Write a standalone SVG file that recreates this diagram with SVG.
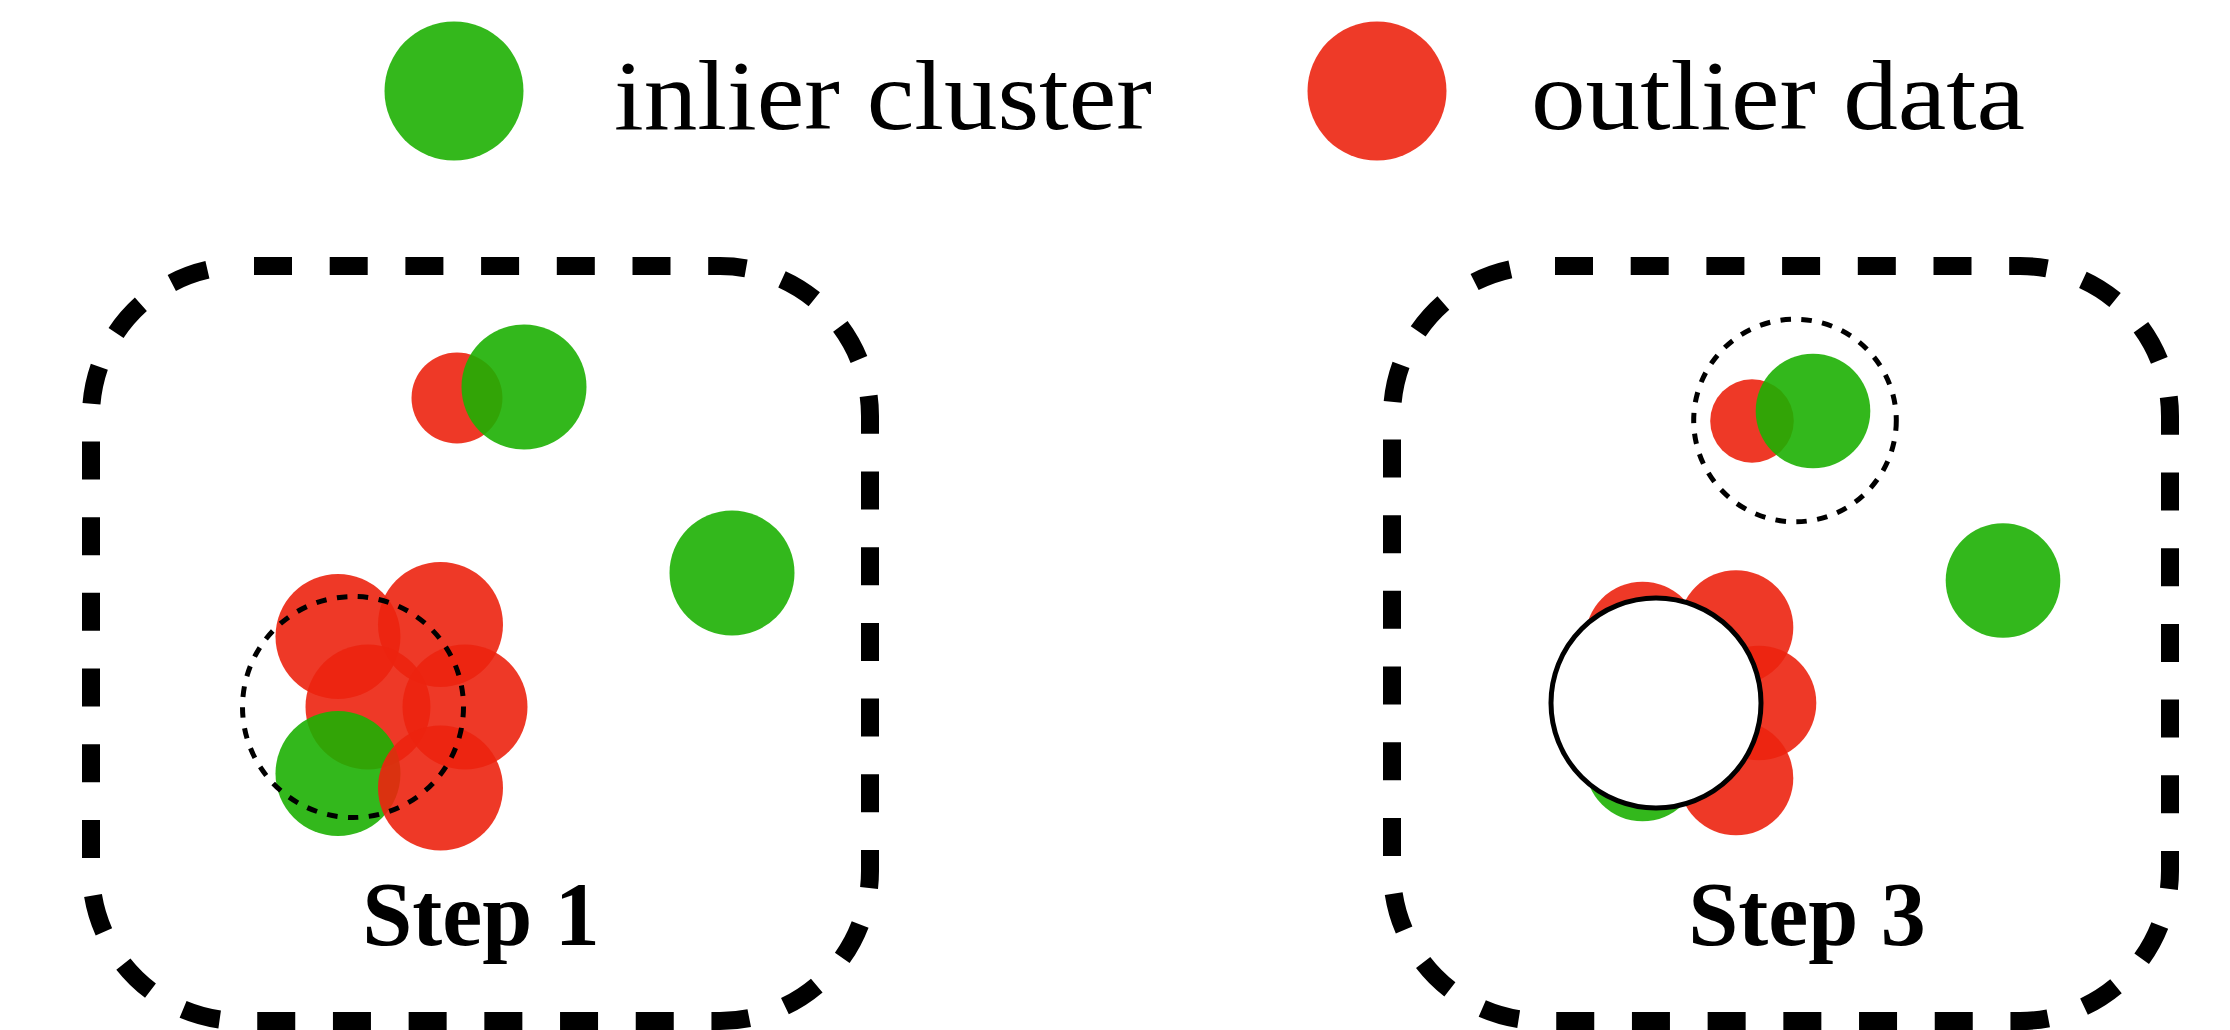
<svg xmlns="http://www.w3.org/2000/svg" width="2230" height="1030" viewBox="0 0 2230 1030">
  <style>
    .inl { fill: #1DB003; fill-opacity: 0.9; }
    .out { fill: #EC2410; fill-opacity: 0.9; }
    .key-inl { fill: #34B81C; }
    .key-out { fill: #EE3A28; }
    .frame { fill: none; stroke: #000; stroke-width: 18; stroke-dasharray: 38 37.7; stroke-dashoffset: -13; }
    .ring { fill: none; stroke: #000; stroke-width: 5; stroke-dasharray: 10.5 10.5; }
    .probe { fill: #fff; stroke: #000; stroke-width: 5; }
    .key-text { font-family: "Liberation Serif", "Times New Roman", serif; font-size: 100px; fill: #000; }
    .step { font-family: "Liberation Serif", "Times New Roman", serif; font-size: 90px; font-weight: bold; fill: #000; text-anchor: middle; }
  </style>

  <!-- legend -->
  <g id="legend">
    <g id="legend-inlier">
      <circle class="key-inl" cx="454" cy="91" r="69.5"/>
      <text class="key-text" x="614" y="129" textLength="538" lengthAdjust="spacingAndGlyphs">inlier cluster</text>
    </g>
    <g id="legend-outlier">
      <circle class="key-out" cx="1377" cy="91" r="69.5"/>
      <text class="key-text" x="1531" y="129" textLength="494" lengthAdjust="spacingAndGlyphs">outlier data</text>
    </g>
  </g>

  <!-- Step 1 panel -->
  <g id="step1">
    <rect class="frame" x="91" y="266" width="779" height="755" rx="150" ry="150"/>
    <g id="step1-pair">
      <circle class="out" cx="457" cy="398" r="45.5"/>
      <circle class="inl" cx="524" cy="387" r="62.5"/>
    </g>
    <circle id="step1-lone" class="inl" cx="732" cy="573" r="62.5"/>
    <g id="step1-cluster">
      <circle class="out" cx="338" cy="636.5" r="62.5"/>
      <circle class="out" cx="440.5" cy="624.5" r="62.5"/>
      <circle class="out" cx="368" cy="707" r="62.5"/>
      <circle class="out" cx="465" cy="707" r="62.5"/>
      <circle class="inl" cx="338" cy="773.5" r="62.5"/>
      <circle class="out" cx="440.5" cy="788" r="62.5"/>
    </g>
    <circle id="step1-ring" class="ring" cx="353" cy="707" r="110.5"/>
    <text class="step" x="481" y="945">Step 1</text>
  </g>

  <!-- Step 3 panel -->
  <g id="step3">
    <rect class="frame" x="1392" y="266" width="778" height="755" rx="150" ry="150"/>
    <g id="step3-pair">
      <circle class="out" cx="1752" cy="421" r="41.8"/>
      <circle class="inl" cx="1813" cy="411" r="57.3"/>
    </g>
    <circle id="step3-ring" class="ring" cx="1795" cy="420.5" r="101.3"/>
    <circle id="step3-lone" class="inl" cx="2003" cy="580.5" r="57.3"/>
    <g id="step3-cluster">
      <circle class="out" cx="1642.5" cy="639" r="57.3"/>
      <circle class="out" cx="1736" cy="627.5" r="57.3"/>
      <circle class="out" cx="1759" cy="703" r="57.3"/>
      <circle class="inl" cx="1642.5" cy="764" r="57.3"/>
      <circle class="out" cx="1736" cy="778" r="57.3"/>
    </g>
    <circle id="step3-probe" class="probe" cx="1656" cy="703" r="105"/>
    <text class="step" x="1807" y="945">Step 3</text>
  </g>
</svg>
